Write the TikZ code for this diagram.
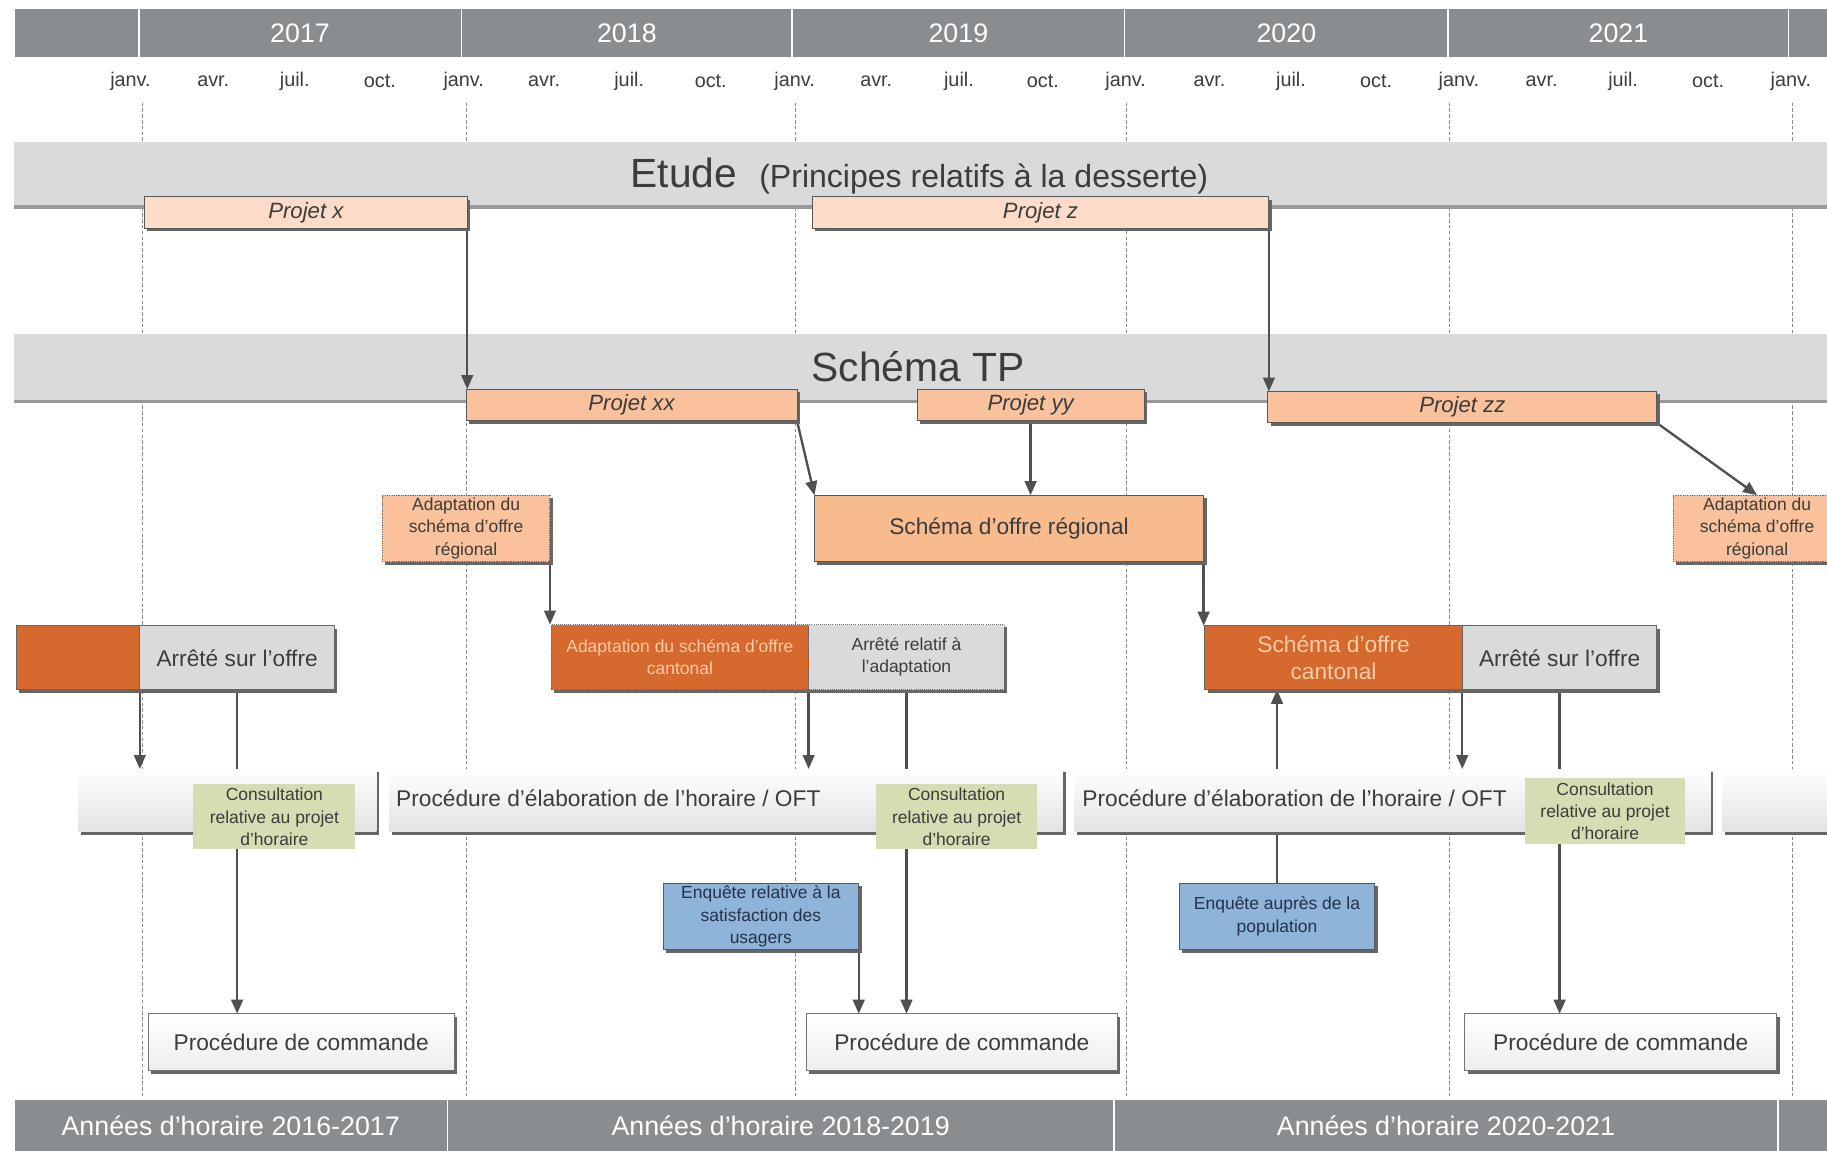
\documentclass[tikz,border=0pt]{standalone}
\usepackage{fontspec}
\setmainfont{Liberation Sans}
\usetikzlibrary{shadows,arrows.meta}
\definecolor{hdr}{HTML}{8A8D90}
\definecolor{band}{HTML}{D8DADC}
\definecolor{pl}{HTML}{FCDCC9}
\definecolor{pm}{HTML}{F9C29C}
\definecolor{por}{HTML}{F7BB8D}
\definecolor{dor}{HTML}{D6692D}
\definecolor{gbox}{HTML}{D9DADB}
\definecolor{grn}{HTML}{D5DEB3}
\definecolor{blu}{HTML}{8FB4DA}
\definecolor{txt}{HTML}{3C3C3C}
\definecolor{lnc}{HTML}{505050}
\definecolor{dorT}{HTML}{F9CDAA}
\definecolor{navy}{HTML}{24324A}
\pgfdeclarelayer{back}\pgfdeclarelayer{conn}
\pgfsetlayers{back,conn,main}
\newcommand\FS[2]{\fontsize{#1}{#2}\selectfont}
\newcommand\Bx[7]{\node[#6, anchor=north west, minimum width={(#4-#2)*1pt}, minimum height={(#5-#3)*1pt}] (#1) at (#2,#3) {#7};}
\tikzset{
  base/.style={inner sep=0pt, outer sep=0pt, align=center, text=txt},
  shad/.style={drop shadow={shadow xshift=2.5pt, shadow yshift=-2.5pt, fill=black!60, opacity=1}},
  hseg/.style={base, fill=hdr, draw=white, line width=1.5pt, text=white, font=\FS{23}{26}},
  bandbox/.style={base, fill=band, drop shadow={shadow xshift=0pt, shadow yshift=-3pt, fill=black!40, opacity=1}},
  projl/.style={base, fill=pl, draw=black!65, line width=0.8pt, font=\FS{19}{22}\itshape, shad},
  projm/.style={base, fill=pm, draw=black!65, line width=0.8pt, font=\FS{19}{22}\itshape, shad},
  orbox/.style={base, fill=por, draw=black!65, line width=0.8pt, font=\FS{19.5}{23}, shad},
  adbox/.style={base, fill=pm, draw=black!60, densely dotted, line width=1pt, font=\FS{15}{19}, shad},
  darkbox/.style={base, fill=dor, draw=black!60, line width=0.8pt, text=dorT, shad},
  greybox/.style={base, fill=gbox, draw=black!60, line width=0.8pt, font=\FS{19.5}{23}, shad},
  procbox/.style={base, top color=white, bottom color=black!11, shad},
  consbox/.style={base, fill=grn, font=\FS{15}{19}},
  enqbox/.style={base, fill=blu, draw=black!65, line width=0.8pt, text=navy, font=\FS{15}{19}, shad},
  cmdbox/.style={base, top color=white, bottom color=black!7, draw=black!55, line width=0.8pt, font=\FS{19.5}{23}, shad},
  vline/.style={draw=black!45, line width=0.7pt, dash pattern=on 3pt off 2pt},
  mon/.style={base, font=\FS{17}{20}},
  arr/.style={draw=lnc, line width=2pt, -{Triangle[length=12pt,width=10pt]}},
  ln/.style={draw=lnc, line width=2pt}
}
\begin{document}
\begin{tikzpicture}[x=1pt,y=-1pt]
\useasboundingbox (0,0) rectangle (1568,987);
\begin{pgfonlayer}{back}
\fill[white] (0,0) rectangle (1568,987);
\foreach \x in {122,400,683,967,1244,1538} \draw[vline] (\x,88) -- (\x,943);
\Bx{etude}{12}{122}{1590}{176}{bandbox}{}
\Bx{tp}{12}{287}{1590}{343}{bandbox}{}
\end{pgfonlayer}
% header
\Bx{h0}{12}{7}{119}{50}{hseg}{}
\Bx{h17}{119}{7}{396}{50}{hseg}{2017}
\Bx{h18}{396}{7}{680}{50}{hseg}{2018}
\Bx{h19}{680}{7}{965}{50}{hseg}{2019}
\Bx{h20}{965}{7}{1243}{50}{hseg}{2020}
\Bx{h21}{1243}{7}{1535}{50}{hseg}{2021}
\Bx{h22}{1535}{7}{1590}{50}{hseg}{}
\foreach \x/\m [count=\i] in {112/janv.,183/avr.,253/juil.,326/oct.,398/janv.,467/avr.,540/juil.,610/oct.,682/janv.,752/avr.,823/juil.,895/oct.,966/janv.,1038/avr.,1108/juil.,1181/oct.,1252/janv.,1323/avr.,1393/juil.,1466/oct.,1537/janv.}
  \node[mon] (m\i) at (\x,70) {\m};
% band titles
\node[base, anchor=base, font=\FS{35}{40}] (etudet) at (789,161) {Etude\hspace{19pt}{\FS{27.5}{32}(Principes relatifs à la desserte)}};
\node[base, anchor=base, font=\FS{35}{40}] (tpt) at (788,327) {Schéma TP};
% projects
\Bx{px}{124}{169}{401}{196}{projl}{Projet x}
\Bx{pz}{697}{169}{1089}{196}{projl}{Projet z}
\Bx{pxx}{400}{334}{684}{361}{projm}{Projet xx}
\Bx{pyy}{787}{334}{982}{361}{projm}{Projet yy}
\Bx{pzz}{1088}{336}{1422}{363}{projm}{Projet zz}
% regional
\Bx{sor}{699}{425}{1033}{482}{orbox}{Schéma d'offre régional}
\Bx{adr1}{328}{425}{472}{482}{adbox}{Adaptation du\\schéma d'offre\\régional}
\Bx{adr2}{1436}{425}{1580}{482}{adbox}{Adaptation du\\schéma d'offre\\régional}
% cantonal row
\Bx{soc0}{14}{537}{120}{592}{darkbox}{}
\Bx{ar1}{120}{537}{287}{592}{greybox}{Arrêté sur l'offre}
\Bx{adc}{473}{536}{694}{592}{darkbox, densely dotted, font=\FS{15}{19}}{Adaptation du schéma d'offre\\cantonal}
\Bx{arr2}{694}{536}{862}{592}{greybox, densely dotted, font=\FS{15}{19}}{Arrêté relatif à\\l'adaptation}
\Bx{soc}{1034}{537}{1255}{592}{darkbox, font=\FS{19.5}{23}}{Schéma d'offre\\cantonal}
\Bx{ar3}{1255}{537}{1422}{592}{greybox}{Arrêté sur l'offre}
% procedure row
\Bx{proc1}{67}{660}{323}{714}{procbox}{}
\Bx{proc2}{334}{660}{912}{714}{procbox}{}
\Bx{proc3}{922}{660}{1468}{714}{procbox}{}
\Bx{proc4}{1478}{660}{1600}{714}{procbox}{}
\node[base, anchor=west, font=\FS{19.5}{23}] (proc2t) at (340,685) {Procédure d'élaboration de l'horaire / OFT};
\node[base, anchor=west, font=\FS{19.5}{23}] (proc3t) at (929,685) {Procédure d'élaboration de l'horaire / OFT};
\Bx{c1}{166}{673}{305}{729}{consbox}{Consultation\\relative au projet\\d'horaire}
\Bx{c2}{752}{673}{890}{729}{consbox}{Consultation\\relative au projet\\d'horaire}
\Bx{c3}{1309}{668}{1446}{724}{consbox}{Consultation\\relative au projet\\d'horaire}
% enquetes
\Bx{enq1}{569}{758}{737}{815}{enqbox}{Enquête relative à la\\satisfaction des\\usagers}
\Bx{enq2}{1012}{758}{1180}{815}{enqbox}{Enquête auprès de la\\population}
% commande
\Bx{pc1}{127}{870}{390}{919}{cmdbox}{Procédure de commande}
\Bx{pc2}{692}{870}{959}{919}{cmdbox}{Procédure de commande}
\Bx{pc3}{1257}{870}{1525}{919}{cmdbox}{Procédure de commande}
% bottom bar
\Bx{b1}{12}{943}{384}{990}{hseg}{Années d'horaire 2016-2017}
\Bx{b2}{384}{943}{956}{990}{hseg}{Années d'horaire 2018-2019}
\Bx{b3}{956}{943}{1526}{990}{hseg}{Années d'horaire 2020-2021}
\Bx{b4}{1526}{943}{1590}{990}{hseg}{}
% connectors
\begin{pgfonlayer}{conn}
\draw[arr] (px.south east) -- (px.south east |- pxx.north);
\draw[arr] (pz.south east) -- (pz.south east |- pzz.north);
\draw[arr] (pxx.south east) -- (sor.north west);
\draw[arr] (pyy.south) -- (pyy.south |- sor.north);
\draw[arr] (pzz.south east) -- (adr2.north);
\draw[arr] (adr1.south east) -- (adr1.south east |- adc.north);
\draw[arr] (sor.south east) -- (sor.south east |- soc.north);
\draw[arr] (ar1.south west) -- (ar1.south west |- proc1.north);
\draw[arr] (ar1.south) -- (ar1.south |- pc1.north);
\draw[arr] (adc.south east) -- (adc.south east |- proc2.north);
\draw[arr] (arr2.south) -- (arr2.south |- pc2.north);
\draw[arr] (enq1.south east) -- (enq1.south east |- pc2.north);
\draw[arr] (enq2.north) -- (enq2.north |- soc.south);
\draw[arr] (ar3.south west) -- (ar3.south west |- proc3.north);
\draw[arr] (ar3.south) -- (ar3.south |- pc3.north);
\end{pgfonlayer}
\end{tikzpicture}
\end{document}
